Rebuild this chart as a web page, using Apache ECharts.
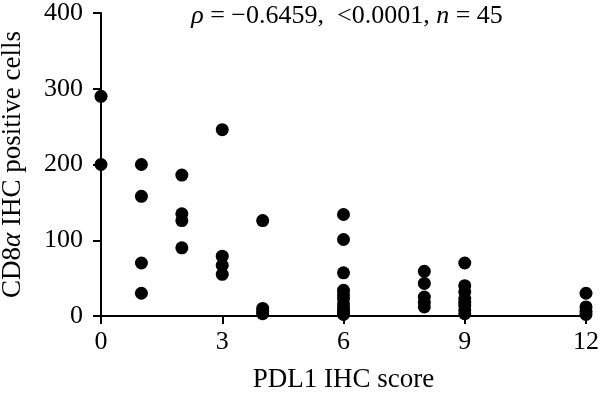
<!DOCTYPE html>
<html>
<head>
<meta charset="utf-8">
<script src="https://cdn.jsdelivr.net/npm/echarts@6/dist/echarts.min.js"></script>
<style>html,body{margin:0;padding:0;background:#fff}#c{width:600px;height:393px}</style>
</head>
<body>
<div id="c"></div>
<script>
const xTicks = [0, 3, 6, 9, 12];
const yTicks = [0, 100, 200, 300, 400];
const pdl1Score = [0,0, 1,1,1,1, 2,2,2,2, 3,3,3,3, 4,4,4,4, 6,6,6,6,6,6,6,6,6,6, 8,8,8,8,8, 9,9,9,9,9,9,9,9, 12,12,12,12];
const cd8Cells  = [290,200, 200,158,70,30, 186,135,126,90, 246,79,67,55, 126,10,6,3, 134,101,57,34,28,23,16,10,5,2, 59,43,25,18,12, 70,40,32,23,18,14,8,3, 30,12,6,2];
const titleText = '{i|ρ} = −0.6459,  <0.0001, {i|n} = 45';
const xName = 'PDL1 IHC score';
const yName = 'CD8{i|α} IHC positive cells';

const FONT = 'Liberation Serif';
const FS = 26;
const chart = echarts.init(document.getElementById('c'), null, {renderer: 'canvas'});
const points = pdl1Score.map((x, i) => [x, cd8Cells[i]]);
chart.setOption({
  animation: false,
  title: {
    text: titleText,
    left: 342, top: -2, textAlign: 'center',
    textStyle: {
      fontFamily: FONT, fontSize: 26, fontWeight: 'normal', color: '#000',
      rich: { i: { fontFamily: FONT, fontSize: 26, fontStyle: 'italic', color: '#000' } }
    }
  },
  grid: { left: 101, right: 14, top: 13, bottom: 77, containLabel: false, outerBoundsMode: 'none' },
  xAxis: {
    type: 'value', min: xTicks[0], max: xTicks[xTicks.length-1], interval: 3,
    name: xName, nameLocation: 'middle', nameGap: 50,
    nameTextStyle: { fontFamily: FONT, fontSize: 27, color: '#000' },
    axisLine: { show: true, onZero: false, lineStyle: { color: '#000', width: 2 } },
    axisTick: { show: true, inside: false, length: 8, lineStyle: { color: '#000', width: 2 } },
    axisLabel: { fontFamily: FONT, fontSize: FS, color: '#000', margin: 13 },
    splitLine: { show: false }
  },
  yAxis: {
    type: 'value', min: yTicks[0], max: yTicks[yTicks.length-1], interval: 100,
    name: yName, nameLocation: 'middle', nameGap: 75,
    nameTextStyle: { fontFamily: FONT, fontSize: 27, color: '#000',
      rich: { i: { fontFamily: FONT, fontSize: 27, fontStyle: 'italic', color: '#000' } } },
    axisLine: { show: true, onZero: false, lineStyle: { color: '#000', width: 2 } },
    axisTick: { show: true, inside: false, length: 8, lineStyle: { color: '#000', width: 2 } },
    axisLabel: { fontFamily: FONT, fontSize: FS, color: '#000', margin: 18 },
    splitLine: { show: false }
  },
  series: [{
    type: 'scatter', data: points, symbol: 'circle', symbolSize: 13,
    itemStyle: { color: '#000', opacity: 1 }
  }]
});
</script>
</body>
</html>
